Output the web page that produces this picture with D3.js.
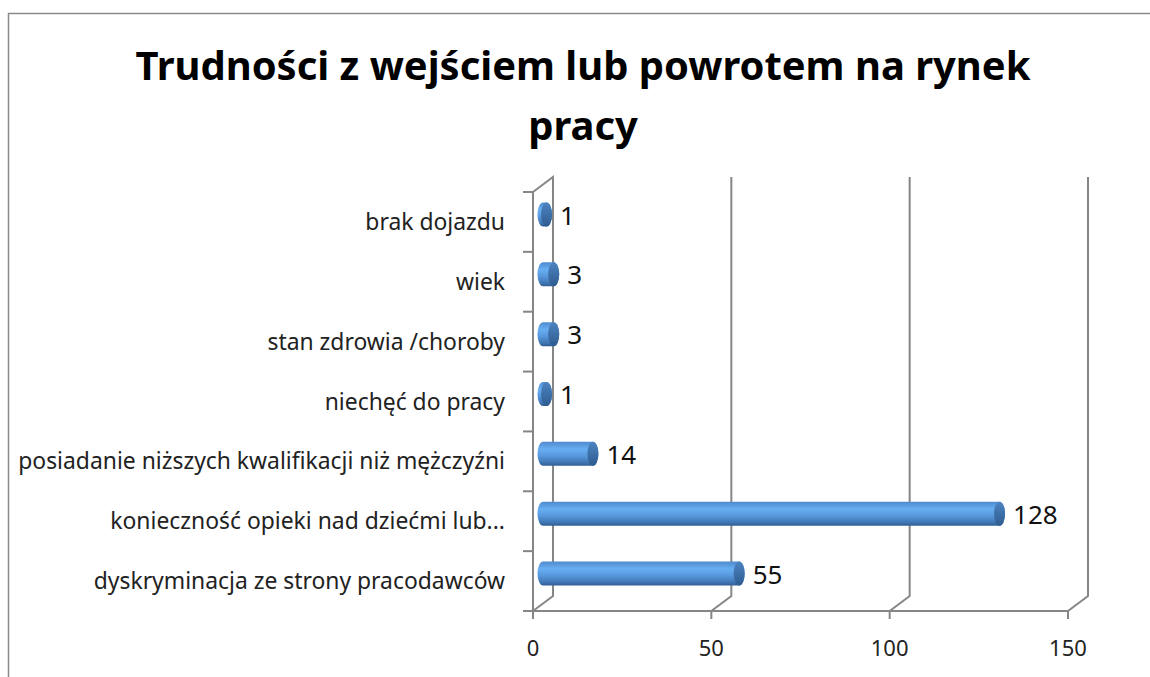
<!DOCTYPE html>
<html>
<head>
<meta charset="utf-8">
<script src="https://cdn.jsdelivr.net/npm/d3@7"></script>
<style>
  body { margin: 0; background: #fff; }
  svg { display: block; }
  text { font-family: "Noto Sans", "Open Sans", sans-serif; fill: #000; }
</style>
</head>
<body>
<div class="chart"></div>
<script>
// data (bottom to top, as Excel draws it)
const categories = [
  "dyskryminacja ze strony pracodawców",
  "konieczność opieki nad dziećmi lub...",
  "posiadanie niższych kwalifikacji niż mężczyźni",
  "niechęć do pracy",
  "stan zdrowia /choroby",
  "wiek",
  "brak dojazdu"
];
const values = [55, 128, 14, 1, 3, 3, 1];
const ticks = [0, 50, 100, 150];
const titleLines = ["Trudności z wejściem lub powrotem na rynek", "pracy"];

const W = 1150, H = 677;
const depth = { dx: 20, dy: -15 };
const gridColor = "#868686";

const svg = d3.select(".chart").append("svg")
  .attr("width", W).attr("height", H);

const defs = svg.append("defs");
const grad = defs.append("linearGradient")
  .attr("id", "cyl").attr("x1", 0).attr("y1", 0).attr("x2", 0).attr("y2", 1);
grad.append("stop").attr("offset", "0%").attr("stop-color", "#4f8ace");
grad.append("stop").attr("offset", "30%").attr("stop-color", "#68aef2");
grad.append("stop").attr("offset", "55%").attr("stop-color", "#5a9be0");
grad.append("stop").attr("offset", "85%").attr("stop-color", "#4178b6");
grad.append("stop").attr("offset", "100%").attr("stop-color", "#315e92");
const capGrad = defs.append("linearGradient")
  .attr("id", "cap").attr("x1", 0).attr("y1", 0).attr("x2", 0).attr("y2", 1);
capGrad.append("stop").attr("offset", "0%").attr("stop-color", "#4d83c0");
capGrad.append("stop").attr("offset", "100%").attr("stop-color", "#2e5c90");

// frame
svg.append("path")
  .attr("d", `M8.5,${H} L8.5,13.5 L${W},13.5`)
  .attr("fill", "none").attr("stroke", "#8a8a8a").attr("stroke-width", 1.5);

// title
const title = svg.append("g").attr("class", "title");
title.selectAll("text")
  .data(titleLines)
  .enter().append("text")
  .attr("x", 583)
  .attr("y", (d, i) => 80 + i * 60)
  .attr("text-anchor", "middle")
  .style("font-weight", "bold")
  .style("font-size", "40px")
  .text(d => d);
// fit first line to the reference width
const t0 = title.select("text").node();
const tw = t0.getComputedTextLength();
title.selectAll("text").style("font-size", (40 * 895 / tw) + "px");

const x = d3.scaleLinear().domain([0, 150]).range([533, 1068]);
const y = d3.scaleBand().domain(categories).range([611, 192]);

const grid = svg.append("g").attr("class", "grid")
  .attr("fill", "none").attr("stroke", gridColor).attr("stroke-width", 2);

// left wall
grid.append("path")
  .attr("d", `M${x(0)},${y.range()[1]} l${depth.dx},${depth.dy} L${x(0) + depth.dx},${y.range()[0] + depth.dy} M${x(0)},${y.range()[1]} L${x(0)},${y.range()[0]}`);

// back wall gridlines + floor
grid.selectAll(".gl")
  .data(ticks)
  .enter().append("path")
  .attr("class", "gl")
  .attr("d", d => `M${x(d) + depth.dx},${y.range()[1] + depth.dy} L${x(d) + depth.dx},${y.range()[0] + depth.dy} L${x(d)},${y.range()[0]}`);

// floor front edge (x axis)
grid.append("path")
  .attr("d", `M${x(0)},${y.range()[0]} L${x(150)},${y.range()[0]}`);

// axis ticks
grid.selectAll(".xt")
  .data(ticks)
  .enter().append("line")
  .attr("x1", d => x(d)).attr("x2", d => x(d))
  .attr("y1", y.range()[0]).attr("y2", y.range()[0] + 8);

const bounds = categories.map(c => y(c)).concat([y.range()[0]]);
grid.selectAll(".yt")
  .data(bounds)
  .enter().append("line")
  .attr("x1", x(0) - 10).attr("x2", x(0))
  .attr("y1", d => d).attr("y2", d => d);

// tick labels
svg.append("g").selectAll("text")
  .data(ticks)
  .enter().append("text")
  .attr("x", d => x(d))
  .attr("y", 656)
  .attr("text-anchor", "middle")
  .style("font-size", "22px")
  .style("fill", "#222")
  .text(d => d);

// category labels
const cat = svg.append("g").selectAll("text")
  .data(categories)
  .enter().append("text")
  .attr("x", 505)
  .attr("y", d => y(d) + y.bandwidth() / 2)
  .attr("dy", "0.35em")
  .attr("text-anchor", "end")
  .style("font-size", "20px")
  .style("fill", "#222")
  .text(d => d);
const longest = d3.max(cat.nodes(), n => n.getComputedTextLength());
cat.style("font-size", (20 * 487 / longest) + "px");

// cylinders
const rx = 5.5, ry = 12;
const bars = svg.append("g").selectAll("g")
  .data(categories.map((c, i) => ({ c, v: values[i] })))
  .enter().append("g");

const cx0 = x(0) + depth.dx / 2;
const cyOf = d => y(d.c) + y.bandwidth() / 2 + depth.dy / 2;

bars.append("path")
  .attr("d", d => {
    const x1 = cx0 + (x(d.v) - x(0));
    const cy = cyOf(d);
    return `M${cx0},${cy - ry} L${x1},${cy - ry} A${rx},${ry} 0 0 1 ${x1},${cy + ry} L${cx0},${cy + ry} A${rx},${ry} 0 0 1 ${cx0},${cy - ry} Z`;
  })
  .attr("fill", "url(#cyl)");

bars.append("ellipse")
  .attr("cx", d => cx0 + (x(d.v) - x(0)))
  .attr("cy", cyOf)
  .attr("rx", rx).attr("ry", ry)
  .attr("fill", "url(#cap)");

// value labels
bars.append("text")
  .attr("x", d => cx0 + (x(d.v) - x(0)) + rx + 8)
  .attr("y", d => cyOf(d) + 1)
  .attr("dy", "0.35em")
  .style("font-size", "26px")
  .style("fill", "#111")
  .text(d => d.v);
</script>
</body>
</html>
